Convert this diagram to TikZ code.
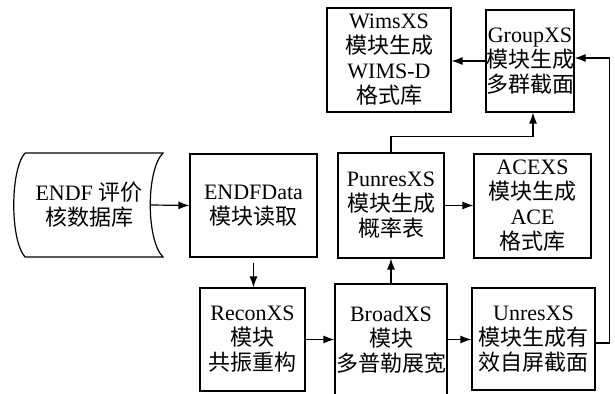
\documentclass[tikz,border=0pt]{standalone}
\usepackage{fontspec}
\setmainfont{Liberation Serif}
\newfontfamily\cjk{Noto Sans CJK SC}
\usepackage{tikz}
\usetikzlibrary{arrows.meta, positioning}
\tikzstyle{block} = [rectangle, 
draw=black, line width=0.6pt, 
inner sep=0pt, align=center, 
font=\fontsize{11}{12.5}\selectfont]
\tikzstyle{arrow} = [line width=0.6pt, -{Latex[length=5.5pt, width=4pt]}]

\begin{document}
\begin{tikzpicture}[x=0.5pt, y=-0.5pt]
        \useasboundingbox (0,0) rectangle (615,394);

        % Biblioteca de datos ENDF
        \draw[line width=0.6pt] (25,153) -- (163,153) .. controls (146,170) and (146,240) .. (163,257)
            -- (25,257) .. controls (10,240) and (10,170) .. (25,153);
        \node[block, draw=none, minimum width=61pt, minimum height=52pt] (endf) at (89,205) {ENDF {\cjk 评价}\\{\cjk 核数据库}};

        % Modulos
        \node[block, minimum width=63.5pt, minimum height=51.5pt] (data) at (253.5,205.5) {ENDFData\\{\cjk 模块读取}};
        \node[block, minimum width=52.5pt, minimum height=51.5pt] (recon) at (252.5,339.5) {ReconXS\\{\cjk 模块}\\{\cjk 共振重构}};
        \node[block, minimum width=56pt, minimum height=55.5pt] (broad) at (391,339.5) {BroadXS\\{\cjk 模块}\\{\cjk 多普勒展宽}};
        \node[block, minimum width=61.5pt, minimum height=51pt] (unres) at (533.5,339) {UnresXS\\{\cjk 模块生成有}\\{\cjk 效自屏截面}};
        \node[block, minimum width=53pt, minimum height=52.5pt] (punres) at (391,205.5) {PunresXS\\{\cjk 模块生成}\\{\cjk 概率表}};
        \node[block, minimum width=58.5pt, minimum height=52pt] (ace) at (532.5,206) {ACEXS\\{\cjk 模块生成}\\ACE\\{\cjk 格式库}};
        \node[block, minimum width=62pt, minimum height=52pt] (wims) at (389,60) {WimsXS\\{\cjk 模块生成}\\WIMS-D\\{\cjk 格式库}};
        \node[block, minimum width=43pt, minimum height=51pt] (group) at (530,61) {GroupXS\\{\cjk 模块生成}\\{\cjk 多群截面}};

        % Flechas
        \draw[arrow] (endf.east) -- (data.west);
        \draw[arrow, shorten <=2.5pt] (data.south) -- (data.south |- recon.north);
        \draw[arrow] (recon.east) -- (recon.east -| broad.west);
        \draw[arrow] (broad.east) -- (broad.east -| unres.west);
        \draw[arrow] (broad.north) -- (punres.south);
        \draw[arrow] (punres.east) -- (punres.east -| ace.west);
        \draw[arrow] (punres.north) -- ++(0,-16) -| ([xshift=1.5pt]group.south);
        \draw[arrow] ([yshift=-2pt]unres.east) -- ++(14,0) |- ([yshift=1.5pt]group.east);
        \draw[arrow] (group.west) -- (group.west -| wims.east);

    \end{tikzpicture}
\end{document}
